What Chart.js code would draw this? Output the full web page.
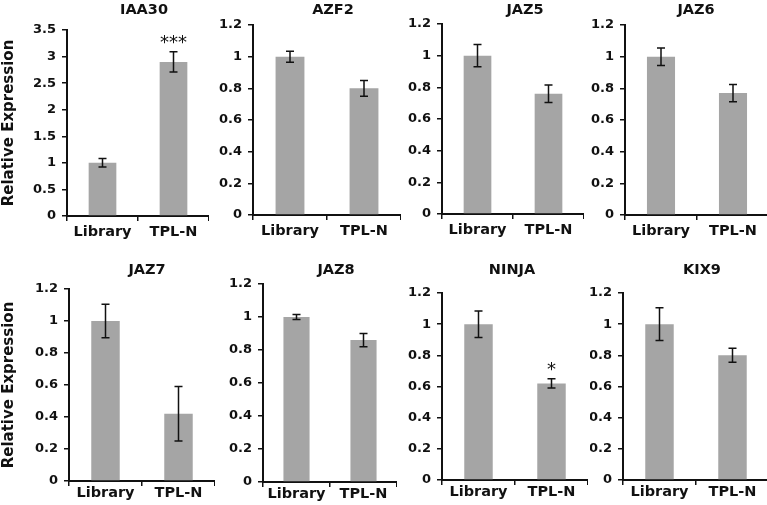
<!DOCTYPE html>
<html>
<head>
<meta charset="utf-8">
<script src="https://cdn.jsdelivr.net/npm/chart.js@4.4.1/dist/chart.umd.min.js"></script>
<style>
  html, body { margin: 0; padding: 0; background: #fff; overflow: hidden; }
  body { width: 767px; height: 505px; position: relative; }
  canvas { position: absolute; }
</style>
</head>
<body>
<script>
// values
const genes = ['IAA30', 'AZF2', 'JAZ5', 'JAZ6', 'JAZ7', 'JAZ8', 'NINJA', 'KIX9']
const groups = ['Library', 'TPL-N']
const libraryMeans = [1, 1, 1, 1, 1, 1, 1, 1]
const libraryErrors = [0.08, 0.035, 0.07, 0.055, 0.105, 0.015, 0.085, 0.105]
const tplnMeans = [2.9, 0.8, 0.76, 0.77, 0.42, 0.86, 0.62, 0.8]
const tplnErrors = [0.19, 0.05, 0.055, 0.055, 0.17, 0.04, 0.03, 0.045]
const tplnStars = ['***', '', '', '', '', '', '*', '']
const yMax = [3.5, 1.2, 1.2, 1.2, 1.2, 1.2, 1.2, 1.2]
const yStep = [0.5, 0.2, 0.2, 0.2, 0.2, 0.2, 0.2, 0.2]
const yTitle = 'Relative Expression'

// where each little panel sits on the page (px)
const panels = [
  { left: 0, top: 0, axisX: 67, right: 209, plotTop: 30, plotBottom: 216, bottom: 246, titleX: 144, titleY: 10, yLabel: true, tickPad: 3 },
  { left: 212, top: 0, axisX: 253, right: 401, plotTop: 25, plotBottom: 215, bottom: 246, titleX: 333, titleY: 10, tickPad: 3 },
  { left: 404, top: 0, axisX: 442, right: 584, plotTop: 24, plotBottom: 214, bottom: 246, titleX: 525, titleY: 10, tickPad: 3 },
  { left: 587, top: 0, axisX: 625, right: 769, plotTop: 25, plotBottom: 215, bottom: 246, titleX: 696, titleY: 10, tickPad: 3 },
  { left: 0, top: 252, axisX: 69, right: 215, plotTop: 289, plotBottom: 481, bottom: 505, titleX: 147, titleY: 270, yLabel: true, tickPad: -1 },
  { left: 218, top: 252, axisX: 263, right: 397, plotTop: 284, plotBottom: 482, bottom: 505, titleX: 336, titleY: 270, tickPad: -1 },
  { left: 400, top: 252, axisX: 442, right: 588, plotTop: 293, plotBottom: 480, bottom: 505, titleX: 512, titleY: 270, tickPad: -1 },
  { left: 590, top: 252, axisX: 623, right: 769, plotTop: 293, plotBottom: 480, bottom: 505, titleX: 702, titleY: 270, tickPad: -1 }
]

const FONT = 'DejaVu Sans'
const INK = '#111'
const BAR = '#a5a5a5'

// error bars + significance stars, drawn through the chart's own scales
const errorBars = {
  id: 'errorBars',
  afterDatasetsDraw (chart, args, opts) {
    const ctx = chart.ctx
    const meta = chart.getDatasetMeta(0)
    const yScale = chart.scales.y
    const values = chart.data.datasets[0].data
    ctx.save()
    ctx.strokeStyle = INK
    ctx.lineWidth = 1.5
    meta.data.forEach((bar, i) => {
      const v = values[i]
      const e = opts.errors[i]
      const yHi = yScale.getPixelForValue(v + e)
      const yLo = yScale.getPixelForValue(v - e)
      ctx.beginPath()
      ctx.moveTo(bar.x, yHi); ctx.lineTo(bar.x, yLo)
      ctx.moveTo(bar.x - 4, yHi); ctx.lineTo(bar.x + 4, yHi)
      ctx.moveTo(bar.x - 4, yLo); ctx.lineTo(bar.x + 4, yLo)
      ctx.stroke()
      if (opts.stars[i]) {
        ctx.fillStyle = INK
        ctx.font = '18px ' + FONT
        ctx.textAlign = 'center'
        ctx.textBaseline = 'alphabetic'
        ctx.fillText(opts.stars[i], bar.x, yHi - 4)
      }
    })
    ctx.restore()
  }
}

// panel title, placed like in the source figure
const panelTitle = {
  id: 'panelTitle',
  afterDraw (chart, args, opts) {
    const ctx = chart.ctx
    ctx.save()
    ctx.fillStyle = INK
    ctx.font = 'bold 14.5px ' + FONT
    ctx.textAlign = 'center'
    ctx.textBaseline = 'middle'
    ctx.fillText(opts.text, opts.x, opts.y)
    ctx.restore()
  }
}

genes.forEach((gene, g) => {
  const p = panels[g]
  const canvas = document.createElement('canvas')
  const w = p.right - p.left
  const hgt = p.bottom - p.top
  canvas.width = w
  canvas.height = hgt
  canvas.style.left = p.left + 'px'
  canvas.style.top = p.top + 'px'
  canvas.style.width = w + 'px'
  canvas.style.height = hgt + 'px'
  document.body.appendChild(canvas)

  new Chart(canvas.getContext('2d'), {
    type: 'bar',
    data: {
      labels: groups,
      datasets: [{
        data: [libraryMeans[g], tplnMeans[g]],
        backgroundColor: BAR,
        borderWidth: 0,
        barPercentage: 0.39,
        categoryPercentage: 1
      }]
    },
    options: {
      responsive: false,
      animation: false,
      devicePixelRatio: 1,
      layout: { padding: { top: p.plotTop - p.top, right: 0, left: 0, bottom: 0 } },
      plugins: {
        legend: { display: false },
        title: { display: false },
        tooltip: { enabled: false },
        errorBars: { errors: [libraryErrors[g], tplnErrors[g]], stars: ['', tplnStars[g]] },
        panelTitle: { text: gene, x: p.titleX - p.left, y: p.titleY - p.top }
      },
      scales: {
        x: {
          offset: true,
          grid: { offset: true, drawOnChartArea: false, drawTicks: true, tickLength: 5, color: INK, lineWidth: 1.5 },
          border: { color: INK, width: 2 },
          ticks: { color: INK, padding: p.tickPad, font: { family: FONT, size: 14.5, weight: 'bold' } },
          afterFit (scale) { scale.height = p.bottom - p.plotBottom }
        },
        y: {
          min: 0,
          max: yMax[g],
          grid: { drawOnChartArea: false, drawTicks: true, tickLength: 5, color: INK, lineWidth: 1.5 },
          border: { color: INK, width: 2 },
          ticks: {
            stepSize: yStep[g],
            color: INK,
            padding: 6,
            font: { family: FONT, size: 13, weight: 'bold' },
            callback: (v) => String(Number(v.toFixed(2)))
          },
          title: {
            display: !!p.yLabel,
            text: yTitle,
            color: INK,
            padding: 0,
            font: { family: FONT, size: 15, weight: 'bold' }
          },
          afterFit (scale) { scale.width = p.axisX - p.left }
        }
      }
    },
    plugins: [errorBars, panelTitle]
  })
})
</script>
</body>
</html>
